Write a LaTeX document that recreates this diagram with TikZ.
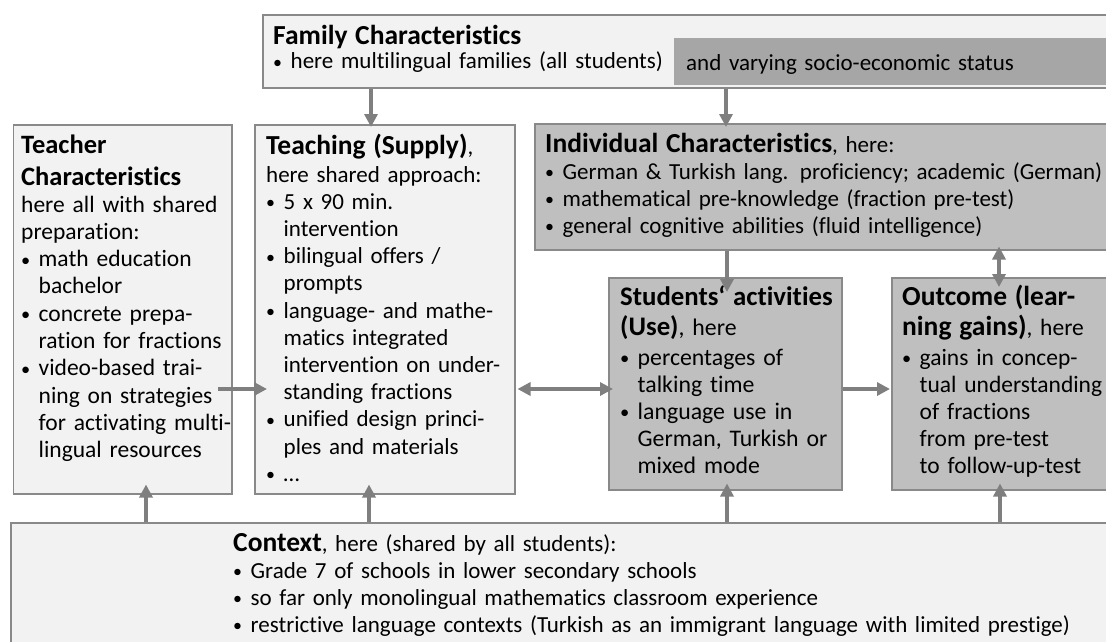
\documentclass[tikz,border=0pt]{standalone}
\usepackage{fontspec}
\usepackage{graphicx}
\setmainfont{Carlito}[Ligatures=NoCommon]
\usetikzlibrary{arrows.meta,calc}
\definecolor{lightfill}{HTML}{F2F2F2}
\definecolor{midfill}{HTML}{BFBFBF}
\definecolor{darkfill}{HTML}{A6A6A6}
\definecolor{edgecol}{HTML}{898989}
\definecolor{arrcol}{HTML}{7F7F7F}
\newcommand{\hdsize}{27.5}
\newcommand{\hd}[1]{{\fontsize{\hdsize}{30}\selectfont\bfseries #1}}
\newcommand{\bl}{\makebox[17.5pt][l]{\raisebox{0.6pt}{\scalebox{0.78}{•}}}}
\newcommand{\cl}{\hspace*{17.5pt}}
\tikzset{
  lbox/.style={draw=edgecol, line width=1.5pt, fill=lightfill, rectangle, inner sep=0pt, anchor=north west},
  mbox/.style={lbox, fill=midfill},
  txt/.style={anchor=base west, inner sep=0pt, text width=900pt, align=left,
    font=\fontsize{23}{27.2}\selectfont},
  arr/.style={draw=arrcol, line width=4.5pt, -{Triangle[width=13pt,length=13pt]}},
  darr/.style={draw=arrcol, line width=4.5pt, {Triangle[width=13pt,length=13pt]}-{Triangle[width=13pt,length=13pt]}}
}
\begin{document}
\begin{tikzpicture}[x=1pt,y=-1pt]
\path[use as bounding box] (0,0) rectangle (1106,641);
\clip (0,0) rectangle (1106,641);
% boxes
\node[lbox, minimum width=858pt, minimum height=73pt] (family) at (262,14) {};
\node[rectangle, fill=darkfill, inner sep=0pt, anchor=north west, minimum width=446pt, minimum height=47pt] (famdark) at (674,38) {};
\node[lbox, minimum width=218.5pt, minimum height=369pt] (teacher) at (12.5,124) {};
\node[lbox, minimum width=260pt, minimum height=369pt] (teaching) at (254,124) {};
\node[mbox, minimum width=586pt, minimum height=126pt] (indiv) at (534,123) {};
\node[mbox, minimum width=233pt, minimum height=212pt] (students) at (608,277) {};
\node[mbox, minimum width=229pt, minimum height=212pt] (outcome) at (891,277) {};
\node[lbox, minimum width=1110pt, minimum height=140pt] (context) at (10,522) {};
% texts
\node[txt] (famtxt) at (273,44) {\hd{Family Characteristics}\\[-2.5pt]
\bl here multilingual families (all students)};
\node[txt] (famtxt2) at (686,70) {and varying socio-economic status};
\node[txt, font=\fontsize{23.5}{27.3}\selectfont] (teachertxt) at (21,153) {{\renewcommand{\hdsize}{26.5}\hd{Teacher}}\\[4.7pt]
{\renewcommand{\hdsize}{26.5}\hd{Characteristics}}\\[-0.3pt]
here all with shared\\
preparation:\\
\bl math education\\
\cl bachelor\\
\bl concrete prepa-\\
\cl ration for fractions\\
\bl video-based trai-\\
\cl ning on strategies\\
\cl for activating multi-\\
\cl lingual resources};
\node[txt] (teachingtxt) at (266,154) {\hd{Teaching (Supply)},\\[0.8pt]
here shared approach:\\
\bl 5 x 90 min.\\
\cl intervention\\
\bl bilingual offers /\\
\cl prompts\\
\bl language- and mathe-\\
\cl matics integrated\\
\cl intervention on under-\\
\cl standing fractions\\
\bl unified design princi-\\
\cl ples and materials\\
\bl …};
\node[txt] (indivtxt) at (545,152) {\hd{Individual Characteristics}, here:\\[-0.2pt]
\bl German \& Turkish lang. proficiency; academic (German)\\
\bl mathematical pre-knowledge (fraction pre-test)\\
\bl general cognitive abilities (fluid intelligence)};
\node[txt, font=\fontsize{23.8}{27.2}\selectfont] (studtxt) at (620,305) {{\renewcommand{\hdsize}{26.8}\hd{Students‘ activities}}\\[2.8pt]
{\renewcommand{\hdsize}{26.8}\hd{(Use)}}, here\\[2.8pt]
\bl percentages of\\
\cl talking time\\
\bl language use in\\
\cl German, Turkish or\\
\cl mixed mode};
\node[txt, font=\fontsize{23.5}{27.2}\selectfont] (outtxt) at (902,305) {\hd{Outcome (lear-}\\[2.8pt]
\hd{ning gains)}, here\\[2.8pt]
\bl gains in concep-\\
\cl tual understanding\\
\cl of fractions\\
\cl from pre-test\\
\cl to follow-up-test};
\node[txt] (contexttxt) at (233,551) {\hd{Context}, here (shared by all students):\\[-0.2pt]
\bl Grade 7 of schools in lower secondary schools\\
\bl so far only monolingual mathematics classroom experience\\
\bl restrictive language contexts (Turkish as an immigrant language with limited prestige)};
% connectors
\draw[arr] ($(family.south west)+(109,0)$) -- ($(teaching.north west)+(117,3)$);
\draw[arr] ($(family.south west)+(464,0)$) -- ($(indiv.north west)+(192,4)$);
\draw[arr] ($(teacher.north east)+(-15,265)$) -- ($(teaching.north west)+(13,265)$);
\draw[darr] ($(teaching.north east)+(2,265)$) -- ($(students.north west)+(5,112)$);
\draw[arr] ($(students.north east)+(0,112)$) -- ($(outcome.north west)+(-1,112)$);
\draw[arr] ($(indiv.south west)+(193,0)$) -- ($(students.north west)+(119,15)$);
\draw[darr] ($(outcome.north west)+(108,10)$) -- ($(indiv.south west)+(465,-4)$);
\draw[arr] ($(context.north west)+(136,0)$) -- ($(teacher.south west)+(133.5,-10)$);
\draw[arr] ($(context.north west)+(359,0)$) -- ($(teaching.south west)+(115,-10)$);
\draw[arr] ($(context.north west)+(717,0)$) -- ($(students.south west)+(119,-7)$);
\draw[arr] ($(context.north west)+(990,0)$) -- ($(outcome.south west)+(109,-7)$);
\end{tikzpicture}
\end{document}
